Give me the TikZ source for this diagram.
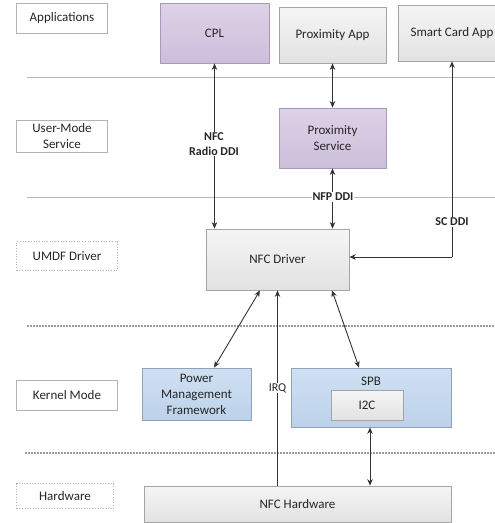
\documentclass[tikz,border=0pt]{standalone}
\usepackage{fontspec}
\setmainfont{Carlito}
\usetikzlibrary{arrows.meta,calc}
\definecolor{purpTop}{HTML}{DDD2E7}
\definecolor{purpBot}{HTML}{CDBFDB}
\definecolor{purpLine}{HTML}{A898BA}
\definecolor{grayTop}{HTML}{F5F5F5}
\definecolor{grayBot}{HTML}{E2E2E2}
\definecolor{grayLine}{HTML}{A4A4A4}
\definecolor{blueTop}{HTML}{CFE0F2}
\definecolor{blueBot}{HTML}{BCD2EA}
\definecolor{blueLine}{HTML}{8EA2BA}
\definecolor{sepLine}{HTML}{B8B8B8}
\begin{document}
\begin{tikzpicture}[x=1pt,y=-1pt,
  every node/.style={font=\fontsize{13}{16}\selectfont, text=black!85},
  layerbox/.style={draw=gray!60, line width=0.7pt, fill=white, inner sep=0pt, align=center},
  purplebox/.style={draw=purpLine, line width=0.8pt, top color=purpTop, bottom color=purpBot, inner sep=0pt, align=center},
  graybox/.style={draw=grayLine, line width=0.8pt, top color=grayTop, bottom color=grayBot, inner sep=0pt, align=center},
  bluebox/.style={draw=blueLine, line width=0.8pt, top color=blueTop, bottom color=blueBot, inner sep=0pt, align=center},
  sep/.style={draw=sepLine, line width=0.9pt},
  dsep/.style={draw=sepLine!85!black, line width=1.2pt, dash pattern=on 2pt off 1pt},
  link/.style={draw=black!80, line width=0.9pt, {Stealth[length=6.5pt,width=5.5pt]}-{Stealth[length=6.5pt,width=5.5pt]}},
  onelink/.style={draw=black!80, line width=0.9pt, -{Stealth[length=6.5pt,width=5.5pt]}},
  tag/.style={font=\bfseries\fontsize{12}{15}\selectfont, fill=white, inner sep=1pt, align=center}
]
\useasboundingbox (0,0) rectangle (495,523);
\clip (0,0) rectangle (495,523);

% layer separators
\draw[sep] (27,77) -- (495,77);
\draw[sep] (27,197) -- (495,197);
\draw[dsep] (27,326) -- (495,326);
\draw[dsep] (25,453) -- (495,453);

% layer names
\node[layerbox, minimum width=91pt, minimum height=30pt] (lapp) at (62,18) {Applications};
\node[layerbox, minimum width=91pt, minimum height=32pt] (lums) at (62,136) {User-Mode\\Service};
\node[layerbox, minimum width=101pt, minimum height=29pt, dotted] (lumdf) at (67,256) {UMDF Driver};
\node[layerbox, minimum width=101pt, minimum height=30pt] (lkm) at (67,395) {Kernel Mode};
\node[layerbox, minimum width=97pt, minimum height=25pt, dotted] (lhw) at (65,496) {Hardware};

% components (the smart card box runs past the right edge)
\node[purplebox, minimum width=109pt, minimum height=60pt] (cpl) at (214.5,33) {CPL};
\node[graybox, minimum width=107pt, minimum height=56pt] (papp) at (332.5,35) {Proximity App};
\node[graybox, minimum width=108pt, minimum height=56pt] (scapp) at (452,33) {Smart Card App};
\node[purplebox, minimum width=107pt, minimum height=60pt] (psvc) at (332.5,138) {Proximity\\Service};
\node[graybox, minimum width=143pt, minimum height=61pt] (nfcd) at (277.5,259.5) {NFC Driver};
\node[bluebox, minimum width=109pt, minimum height=52pt] (pmf) at (196.5,394) {Power\\Management\\Framework};
\node[bluebox, minimum width=160pt, minimum height=59pt] (spb) at (371,397.5) {};
\node (spblbl) at (371,381) {SPB};
\node[graybox, minimum width=72pt, minimum height=30pt] (i2c) at (367,405) {I2C};
\node[graybox, minimum width=307pt, minimum height=36pt] (nfch) at (297.5,504) {NFC Hardware};

% connectors
\coordinate (cpldown) at (cpl.south |- nfcd.north);
\draw[link] (cpl.south) -- (cpldown);
\draw[link] (papp.south) -- (psvc.north);
\draw[link] (psvc.south) -- (psvc.south |- nfcd.north);
\coordinate (scturn) at (452,257);
\draw[onelink] (scturn) -- (scturn |- scapp.south);
\draw[onelink] (scturn) -- (scturn -| nfcd.east);
\draw[link] ([xshift=-17.5pt]nfcd.south) -- ([xshift=17.5pt]pmf.north);
\draw[link] ([xshift=54.5pt]nfcd.south) -- ([xshift=-12pt]spb.north);
\coordinate (irqfoot) at (nfch.north -| nfcd.south);
\draw[onelink] (irqfoot) -- (nfcd.south);
\draw[link] ([xshift=-1pt]spb.south) -- ([xshift=-1pt]spb.south |- nfch.north);

% interface labels
\node[tag] (radio) at (214,144) {NFC\\Radio DDI};
\node[tag] (nfp) at (333,197) {NFP DDI};
\node[tag] (scddi) at (452,222) {SC DDI};
\node[fill=white, inner sep=0.5pt, font=\fontsize{12}{15}\selectfont] (irq) at (277.5,388) {IRQ};
\end{tikzpicture}
\end{document}
